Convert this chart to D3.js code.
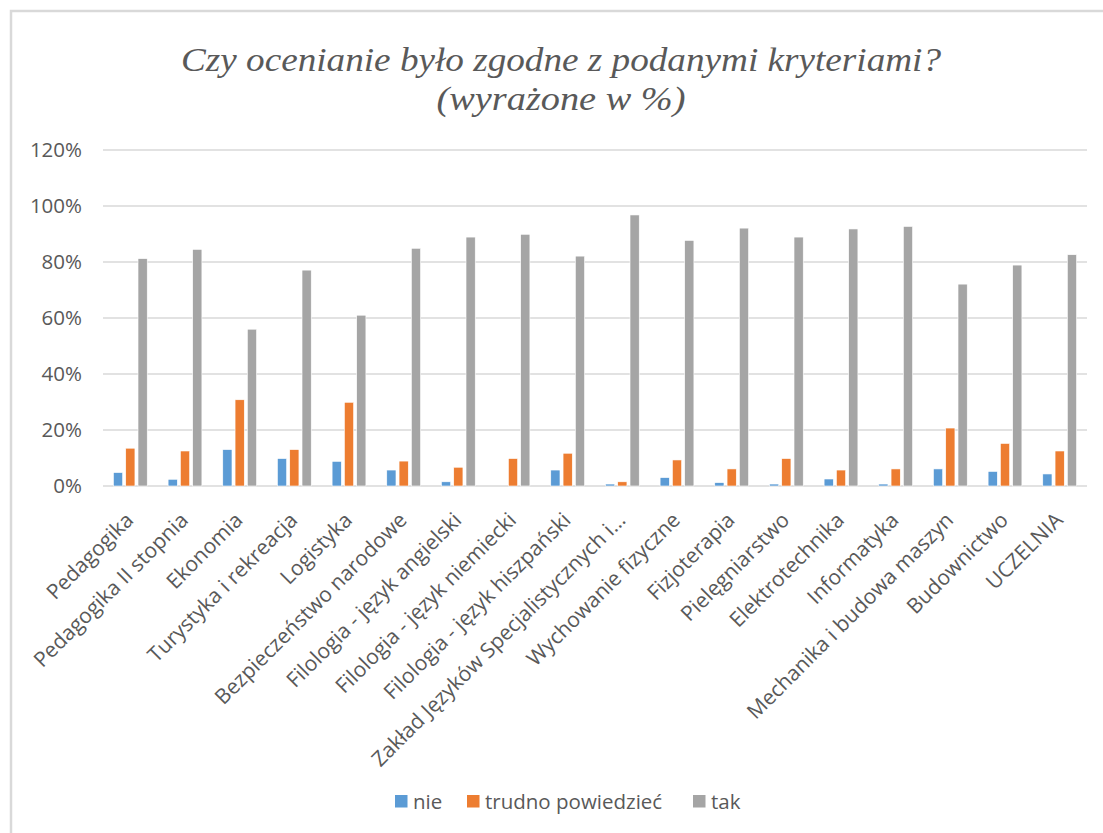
<!DOCTYPE html>
<html>
<head>
<meta charset="utf-8">
<script src="https://d3js.org/d3.v7.min.js"></script>
<style>
  html, body { margin: 0; padding: 0; background: #fff; }
  svg { display: block; }
  .tick-label { font-family: 'Open Sans', sans-serif; font-size: 20.5px; fill: #595959; }
  .x-label { font-family: 'Open Sans', sans-serif; font-size: 21px; fill: #595959; }
  .title { font-family: 'Liberation Serif', 'Times New Roman', serif; font-style: italic; font-size: 34px; fill: #595959; }
</style>
</head>
<body>
<div id="chart"></div>
<script>
// categories and values (percent)
const categories = [
  'Pedagogika', 'Pedagogika II stopnia', 'Ekonomia', 'Turystyka i rekreacja', 'Logistyka',
  'Bezpieczeństwo narodowe', 'Filologia - język angielski', 'Filologia - język niemiecki',
  'Filologia - język hiszpański', 'Zakład Języków Specjalistycznych i…', 'Wychowanie fizyczne',
  'Fizjoterapia', 'Pielęgniarstwo', 'Elektrotechnika', 'Informatyka',
  'Mechanika i budowa maszyn', 'Budownictwo', 'UCZELNIA'
];
const nie = [4.8, 2.4, 13.0, 9.8, 8.8, 5.7, 1.5, 0, 5.7, 0.7, 3.0, 1.2, 0.7, 2.5, 0.7, 6.1, 5.2, 4.3];
const trudno = [13.5, 12.5, 30.8, 13.0, 29.9, 8.9, 6.7, 9.8, 11.7, 1.5, 9.3, 6.1, 9.8, 5.7, 6.1, 20.7, 15.2, 12.5];
const tak = [81.2, 84.5, 56.0, 77.1, 61.0, 84.9, 88.9, 89.9, 82.1, 96.8, 87.7, 92.1, 88.9, 91.8, 92.7, 72.1, 78.9, 82.6];
const seriesNames = ['nie', 'trudno powiedzieć', 'tak'];
const seriesColors = ['#5B9BD5', '#ED7D31', '#A5A5A5'];
const yTicks = [0, 20, 40, 60, 80, 100, 120];
const titleLines = ['Czy ocenianie było zgodne z podanymi kryteriami?', '(wyrażone w %)'];

const W = 1103, H = 833;
const plot = { left: 103, right: 1087, top: 150, bottom: 486 };

const svg = d3.select('#chart').append('svg').attr('width', W).attr('height', H);

// chart frame (only top and left edges show)
svg.append('path')
  .attr('d', `M11,${H} L11,11 L${W},11`)
  .attr('fill', 'none').attr('stroke', '#D9D9D9').attr('stroke-width', 2.5);

// title
svg.append('text').attr('class', 'title')
  .attr('x', 561).attr('y', 71).attr('text-anchor', 'middle')
  .attr('textLength', 760).attr('lengthAdjust', 'spacingAndGlyphs')
  .text(titleLines[0]);
svg.append('text').attr('class', 'title')
  .attr('x', 561).attr('y', 110).attr('text-anchor', 'middle')
  .attr('textLength', 249).attr('lengthAdjust', 'spacingAndGlyphs')
  .text(titleLines[1]);

const x = d3.scaleBand().domain(categories).range([plot.left, plot.right]).padding(0);
const xs = d3.scaleBand().domain(seriesNames).range([-16.9, 16.9]).paddingInner(0.25).paddingOuter(0);
const y = d3.scaleLinear().domain([0, 120]).range([plot.bottom, plot.top]);

// gridlines
svg.append('g').selectAll('line').data(yTicks).join('line')
  .attr('x1', plot.left).attr('x2', plot.right)
  .attr('y1', d => y(d)).attr('y2', d => y(d))
  .attr('stroke', '#D9D9D9').attr('stroke-width', 1.3);

// y labels
svg.append('g').selectAll('text').data(yTicks).join('text')
  .attr('class', 'tick-label')
  .attr('x', 82).attr('y', d => y(d)).attr('dy', '0.35em')
  .attr('text-anchor', 'end')
  .text(d => d + '%');

// bars
const rows = categories.map((c, i) => ({ cat: c, vals: [nie[i], trudno[i], tak[i]] }));
const groups = svg.append('g').selectAll('g').data(rows).join('g')
  .attr('transform', d => `translate(${x(d.cat) + x.bandwidth() / 2},0)`);
groups.selectAll('rect')
  .data(d => d.vals.map((v, j) => ({ s: seriesNames[j], v, c: seriesColors[j] })))
  .join('rect')
  .filter(d => d.v > 0)
  .attr('x', d => xs(d.s))
  .attr('width', xs.bandwidth())
  .attr('y', d => y(d.v))
  .attr('height', d => y(0) - y(d.v))
  .attr('fill', d => d.c)
  .attr('stroke', '#fff').attr('stroke-width', 0.6);

// x labels, rotated 45°
svg.append('g').selectAll('text').data(categories).join('text')
  .attr('class', 'x-label')
  .attr('text-anchor', 'end')
  .attr('transform', d => `translate(${x(d) + x.bandwidth() / 2 - 6},${plot.bottom + 25}) rotate(-45)`)
  .attr('dy', '0.7em')
  .text(d => d);

// legend
const legendItems = [
  { name: seriesNames[0], color: seriesColors[0], x: 395 },
  { name: seriesNames[1], color: seriesColors[1], x: 467 },
  { name: seriesNames[2], color: seriesColors[2], x: 693 }
];
const lg = svg.append('g').selectAll('g').data(legendItems).join('g')
  .attr('transform', d => `translate(${d.x},795)`);
lg.append('rect').attr('width', 12.5).attr('height', 12.5).attr('fill', d => d.color);
lg.append('text').attr('class', 'tick-label')
  .attr('x', 18).attr('y', 6.5).attr('dy', '0.35em')
  .text(d => d.name);
</script>
</body>
</html>
